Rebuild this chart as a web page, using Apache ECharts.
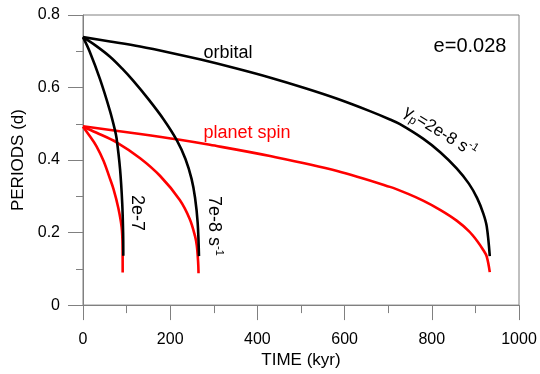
<!DOCTYPE html>
<html>
<head>
<meta charset="utf-8">
<script src="https://cdn.jsdelivr.net/npm/echarts@6/dist/echarts.min.js"></script>
<style>html,body{margin:0;padding:0;background:#fff}#c{width:540px;height:374px}</style>
</head>
<body>
<div id="c"></div>
<script>
// Time (kyr) and period (d)
const orbitLongT  = [0, 62, 131, 200, 270, 350, 430, 510, 583, 658, 704, 727, 780, 820, 857, 885, 904, 918, 926, 933];
const orbitLongP  = [0.739, 0.727, 0.713, 0.696, 0.677, 0.653, 0.627, 0.598, 0.569, 0.535, 0.512, 0.499, 0.459, 0.421, 0.377, 0.335, 0.295, 0.253, 0.217, 0.135];
const spinLongT   = [0, 131, 222, 291, 429, 583, 704, 743, 780, 820, 857, 885, 904, 918, 926, 933];
const spinLongP   = [0.493, 0.472, 0.456, 0.442, 0.411, 0.370, 0.326, 0.308, 0.288, 0.262, 0.233, 0.204, 0.177, 0.152, 0.134, 0.091];
const orbitMidT   = [0, 30, 62, 90, 115, 150, 185, 215, 235, 249, 257, 263, 266];
const orbitMidP   = [0.739, 0.715, 0.685, 0.652, 0.619, 0.568, 0.512, 0.455, 0.403, 0.348, 0.296, 0.227, 0.135];
const spinMidT    = [0, 30, 77, 131, 177, 222, 245, 257, 261, 264, 265];
const spinMidP    = [0.492, 0.476, 0.449, 0.405, 0.356, 0.290, 0.237, 0.190, 0.164, 0.120, 0.088];
const orbitShortT = [0, 15, 39, 62, 73, 77, 85, 90, 92, 92.4];
const orbitShortP = [0.739, 0.700, 0.623, 0.535, 0.484, 0.460, 0.375, 0.280, 0.200, 0.136];
const spinShortT  = [0, 15, 31, 47, 60, 70, 81, 88.6, 90.7, 91];
const spinShortP  = [0.492, 0.467, 0.438, 0.398, 0.355, 0.320, 0.268, 0.215, 0.164, 0.090];

const xTicks = [0, 200, 400, 600, 800, 1000];
const yTicks = [0, 0.2, 0.4, 0.6, 0.8];

const pairs = (t, p) => t.map((v, i) => [v, p[i]]);
const FONT = 'Liberation Sans, Arial, sans-serif';
const GRAY = '#808080';

function line(t, p, color) {
  return {
    type: 'line', data: pairs(t, p), showSymbol: false, smooth: 0.35,
    lineStyle: { color: color, width: 2.6 }, silent: true, animation: false
  };
}

const chart = echarts.init(document.getElementById('c'), null, { renderer: 'canvas' });
chart.setOption({
  animation: false,
  backgroundColor: '#fff',
  grid: { left: 83, right: 21, top: 15, bottom: 68, show: true, borderColor: GRAY, borderWidth: 1 },
  xAxis: {
    type: 'value', min: xTicks[0], max: xTicks[xTicks.length - 1], interval: 200,
    name: 'TIME (kyr)', nameLocation: 'middle', nameGap: 40,
    nameTextStyle: { fontFamily: FONT, fontSize: 17, color: '#000' },
    axisLine: { show: true, lineStyle: { color: GRAY, width: 1 } },
    axisTick: { show: true, inside: false, length: 15, lineStyle: { color: GRAY } },
    minorTick: { show: true, splitNumber: 2, length: 8, lineStyle: { color: GRAY } },
    axisLabel: { fontFamily: FONT, fontSize: 16, color: '#000', margin: 26, formatter: v => String(v) },
    splitLine: { show: false }
  },
  yAxis: {
    type: 'value', min: yTicks[0], max: yTicks[yTicks.length - 1], interval: 0.2,
    name: 'PERIODS (d)', nameLocation: 'middle', nameGap: 46,
    nameTextStyle: { fontFamily: FONT, fontSize: 17, color: '#000' },
    axisLine: { show: true, lineStyle: { color: GRAY, width: 1 } },
    axisTick: { show: true, inside: false, length: 15, lineStyle: { color: GRAY } },
    minorTick: { show: true, splitNumber: 2, length: 7, lineStyle: { color: GRAY } },
    axisLabel: { fontFamily: FONT, fontSize: 16, color: '#000', margin: 23,
      formatter: v => (v === 0 ? '0' : v.toFixed(1)) },
    splitLine: { show: false }
  },
  series: [
    line(spinLongT, spinLongP, '#ff0000'),
    line(spinMidT, spinMidP, '#ff0000'),
    line(spinShortT, spinShortP, '#ff0000'),
    line(orbitLongT, orbitLongP, '#000000'),
    line(orbitMidT, orbitMidP, '#000000'),
    line(orbitShortT, orbitShortP, '#000000')
  ],
  graphic: [
    { type: 'text', x: 228, y: 53, style: { text: 'orbital', font: '18px ' + FONT, fill: '#000', align: 'center', verticalAlign: 'middle' } },
    { type: 'text', x: 247, y: 133, style: { text: 'planet spin', font: '18px ' + FONT, fill: '#ff0000', align: 'center', verticalAlign: 'middle' } },
    { type: 'text', x: 470, y: 46, style: { text: 'e=0.028', font: '20px ' + FONT, fill: '#000', align: 'center', verticalAlign: 'middle' } },
    { type: 'text', x: 137, y: 213, rotation: -Math.PI / 2, style: { text: '2e-7', font: '18px ' + FONT, fill: '#000', align: 'center', verticalAlign: 'middle' } },
    { type: 'text', x: 215, y: 226, rotation: -Math.PI / 2, style: {
        text: '{a|7e-8 s}{s|-1}', align: 'center', verticalAlign: 'middle',
        rich: { a: { fontFamily: FONT, fontSize: 18, fill: '#000', lineHeight: 20, verticalAlign: 'bottom' },
                s: { fontFamily: FONT, fontSize: 11, fill: '#000', lineHeight: 20, verticalAlign: 'top' } } } },
    { type: 'text', x: 440, y: 132, rotation: -32 * Math.PI / 180, style: {
        text: '{a|γ}{p|p}{a|=2e-8 s}{s|-1}', align: 'center', verticalAlign: 'middle',
        rich: { a: { fontFamily: FONT, fontSize: 17, fill: '#000', lineHeight: 22, verticalAlign: 'middle' },
                p: { fontFamily: FONT, fontSize: 12, fill: '#000', lineHeight: 22, verticalAlign: 'bottom' },
                s: { fontFamily: FONT, fontSize: 11, fill: '#000', lineHeight: 22, verticalAlign: 'top' } } } }
  ]
});
</script>
</body>
</html>
